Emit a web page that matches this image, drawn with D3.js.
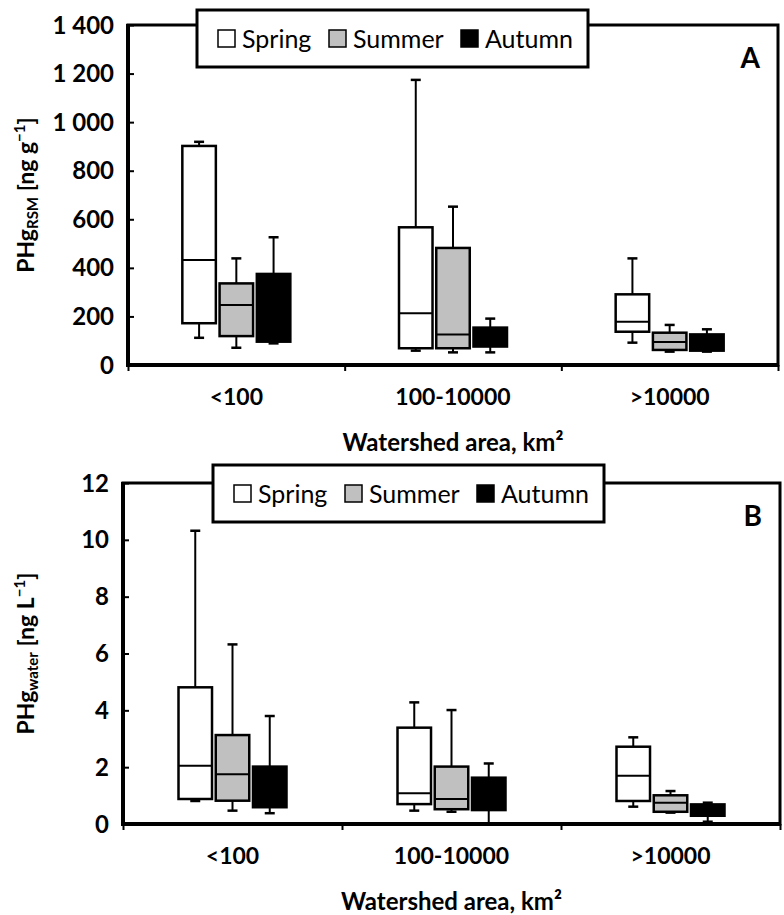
<html>
<head>
    <title>PHg boxplots by watershed area</title>
    <style>
        body { margin: 0; background: #fff; }
        text { font-family: Lato, "Open Sans", sans-serif; }
    </style>
</head>
<body>
<div id="my_dataviz"></div>

<script src="https://d3js.org/d3.v7.min.js"></script>
<script>

    var categories = ["<100", "100-10000", ">10000"];
    var seasons = ["Spring", "Summer", "Autumn"];
    var seasonFill = ["#ffffff", "#c0c0c0", "#000000"];

    // panel A, PHg RSM (ng/g): rows = watershed classes, columns = seasons
    var rsmLow    = [[112, 71, 89], [59, 52, 52], [92, 55, 55]];
    var rsmQ1     = [[172, 119, 96], [69, 69, 76], [137, 62, 59]];
    var rsmMedian = [[432, 247, 200], [213, 126, 110], [178, 95, 90]];
    var rsmQ3     = [[902, 336, 375], [567, 482, 154], [291, 133, 126]];
    var rsmHigh   = [[919, 439, 526], [1174, 652, 191], [439, 165, 147]];
    var rsmTicks  = [0, 200, 400, 600, 800, 1000, 1200, 1400];

    // panel B, PHg water (ng/L)
    var waterLow    = [[0.81, 0.47, 0.38], [0.47, 0.43, 0.02], [0.61, 0.40, 0.08]];
    var waterQ1     = [[0.88, 0.82, 0.59], [0.70, 0.52, 0.49], [0.81, 0.43, 0.29]];
    var waterMedian = [[2.05, 1.75, 1.2], [1.08, 0.88, 1.0], [1.70, 0.75, 0.5]];
    var waterQ3     = [[4.81, 3.13, 2.02], [3.39, 2.02, 1.63], [2.72, 1.01, 0.69]];
    var waterHigh   = [[10.32, 6.32, 3.80], [4.28, 4.01, 2.13], [3.05, 1.16, 0.75]];
    var waterTicks  = [0, 2, 4, 6, 8, 10, 12];

    var svg = d3.select("#my_dataviz")
        .append("svg")
        .attr("width", 784)
        .attr("height", 915);

    var fmt = d3.formatLocale({ decimal: ".", thousands: " ", grouping: [3], currency: ["", ""] }).format(",d");

    function drawPanel(p) {
        var g = svg.append("g");

        var x = d3.scaleBand()
            .domain(categories)
            .range([p.left, p.right]);

        var sub = d3.scaleBand()
            .domain(seasons)
            .range([-54, 54])
            .paddingInner(0.1);

        var y = d3.scaleLinear()
            .domain(p.domain)
            .range([p.bottom, p.top]);

        // frame
        g.append("rect")
            .attr("x", p.left).attr("y", p.top)
            .attr("width", p.right - p.left).attr("height", p.bottom - p.top)
            .attr("fill", "none").attr("stroke", "#000").attr("stroke-width", 3);

        // y axis, ticks inside
        var yAxis = g.append("g")
            .attr("transform", "translate(" + p.left + ",0)")
            .call(d3.axisRight(y).tickValues(p.ticks).tickSize(6).tickFormat(""));
        yAxis.select(".domain").remove();
        yAxis.selectAll("line").attr("stroke-width", 2);

        g.selectAll(".ylab")
            .data(p.ticks)
            .enter().append("text")
            .attr("x", p.left - 14)
            .attr("y", function (d) { return y(d); })
            .attr("dy", "0.36em")
            .attr("text-anchor", "end")
            .style("font-size", "24px")
            .style("font-weight", "bold")
            .text(function (d) { return p.format(d); });

        // x axis, ticks at class boundaries
        var xb = d3.scaleLinear().domain([0, 3]).range([p.left, p.right]);
        var xAxis = g.append("g")
            .attr("transform", "translate(0," + p.bottom + ")")
            .call(d3.axisBottom(xb).ticks(3).tickSize(6).tickFormat(""));
        xAxis.select(".domain").remove();
        xAxis.selectAll("line").attr("stroke-width", 2);

        // heavier left and bottom axis lines
        g.append("line")
            .attr("x1", p.left).attr("x2", p.left)
            .attr("y1", p.top - 1).attr("y2", p.bottom + 2)
            .attr("stroke", "#000").attr("stroke-width", 4);
        g.append("line")
            .attr("x1", p.left - 2).attr("x2", p.right + 1)
            .attr("y1", p.bottom).attr("y2", p.bottom)
            .attr("stroke", "#000").attr("stroke-width", 4);

        // boxes
        var boxes = [];
        categories.forEach(function (c, i) {
            seasons.forEach(function (s, j) {
                boxes.push({
                    cat: c, season: s, fill: seasonFill[j],
                    low: p.low[i][j], q1: p.q1[i][j], med: p.median[i][j],
                    q3: p.q3[i][j], high: p.high[i][j]
                });
            });
        });

        var bw = sub.bandwidth();
        var bg = g.selectAll(".box")
            .data(boxes)
            .enter().append("g")
            .attr("transform", function (d) {
                return "translate(" + (x(d.cat) + x.bandwidth() / 2 + sub(d.season)) + ",0)";
            });

        // whiskers
        bg.append("line")
            .attr("x1", bw / 2).attr("x2", bw / 2)
            .attr("y1", function (d) { return y(d.q3); })
            .attr("y2", function (d) { return y(d.high); })
            .attr("stroke", "#000").attr("stroke-width", 2);
        bg.append("line")
            .attr("x1", bw / 2).attr("x2", bw / 2)
            .attr("y1", function (d) { return y(d.q1); })
            .attr("y2", function (d) { return y(d.low); })
            .attr("stroke", "#000").attr("stroke-width", 2);
        bg.append("line")
            .attr("x1", bw / 2 - 5).attr("x2", bw / 2 + 5)
            .attr("y1", function (d) { return y(d.high); })
            .attr("y2", function (d) { return y(d.high); })
            .attr("stroke", "#000").attr("stroke-width", 2.5);
        bg.append("line")
            .attr("x1", bw / 2 - 5).attr("x2", bw / 2 + 5)
            .attr("y1", function (d) { return y(d.low); })
            .attr("y2", function (d) { return y(d.low); })
            .attr("stroke", "#000").attr("stroke-width", 2.5);

        bg.append("rect")
            .attr("x", 0).attr("width", bw)
            .attr("y", function (d) { return y(d.q3); })
            .attr("height", function (d) { return y(d.q1) - y(d.q3); })
            .attr("fill", function (d) { return d.fill; })
            .attr("stroke", "#000").attr("stroke-width", 2.5);

        bg.append("line")
            .attr("x1", 0).attr("x2", bw)
            .attr("y1", function (d) { return y(d.med); })
            .attr("y2", function (d) { return y(d.med); })
            .attr("stroke", "#000").attr("stroke-width", 2);

        // category labels
        g.selectAll(".catlab")
            .data(categories)
            .enter().append("text")
            .attr("x", function (d) { return x(d) + x.bandwidth() / 2; })
            .attr("y", p.bottom + 40)
            .attr("text-anchor", "middle")
            .style("font-size", "23px")
            .style("font-weight", "bold")
            .text(function (d) { return d; });

        // x title
        g.append("text")
            .attr("x", (p.left + p.right) / 2)
            .attr("y", p.bottom + 86)
            .attr("text-anchor", "middle")
            .style("font-size", "24px")
            .style("font-weight", "bold")
            .text("Watershed area, km\u00b2");

        // y title
        var yt = g.append("text")
            .attr("transform", "translate(" + 34 + "," + ((p.top + p.bottom) / 2) + ") rotate(-90)")
            .attr("text-anchor", "middle")
            .style("font-size", "23px")
            .style("font-weight", "bold");
        yt.append("tspan").text("PHg");
        yt.append("tspan").attr("baseline-shift", "-25%").style("font-size", "15px").text(p.sub);
        yt.append("tspan").text(" [ng " + p.unit);
        yt.append("tspan").attr("baseline-shift", "super").style("font-size", "15px").text("\u22121");
        yt.append("tspan").text("]");

        // panel letter
        g.append("text")
            .attr("x", p.right - 18)
            .attr("y", p.top + 43)
            .attr("text-anchor", "end")
            .style("font-size", "28px")
            .style("font-weight", "bold")
            .text(p.letter);

        // legend
        var lg = g.append("g").attr("transform", "translate(" + p.legendX + "," + p.legendY + ")");
        lg.append("rect")
            .attr("width", 391).attr("height", 57)
            .attr("fill", "#fff").attr("stroke", "#000").attr("stroke-width", 3);
        var lx = d3.scaleOrdinal().domain(seasons).range([21, 132, 264]);
        var li = lg.selectAll(".li")
            .data(seasons)
            .enter().append("g")
            .attr("transform", function (d) { return "translate(" + lx(d) + ",0)"; });
        li.append("rect")
            .attr("y", 20).attr("width", 17).attr("height", 17)
            .attr("fill", function (d, i) { return seasonFill[i]; })
            .attr("stroke", "#000").attr("stroke-width", 1.5);
        li.append("text")
            .attr("x", 24).attr("y", 38)
            .style("font-size", "25px")
            .text(function (d) { return d; });
    }

    drawPanel({
        left: 128, right: 778, top: 25, bottom: 365,
        domain: [0, 1400], ticks: rsmTicks, format: fmt,
        low: rsmLow, q1: rsmQ1, median: rsmMedian, q3: rsmQ3, high: rsmHigh,
        sub: "RSM", unit: "g", letter: "A",
        legendX: 197, legendY: 10
    });

    drawPanel({
        left: 123, right: 780, top: 483, bottom: 824,
        domain: [0, 12], ticks: waterTicks, format: function (d) { return d; },
        low: waterLow, q1: waterQ1, median: waterMedian, q3: waterQ3, high: waterHigh,
        sub: "water", unit: "L", letter: "B",
        legendX: 213, legendY: 465
    });

</script>
</body>
</html>
